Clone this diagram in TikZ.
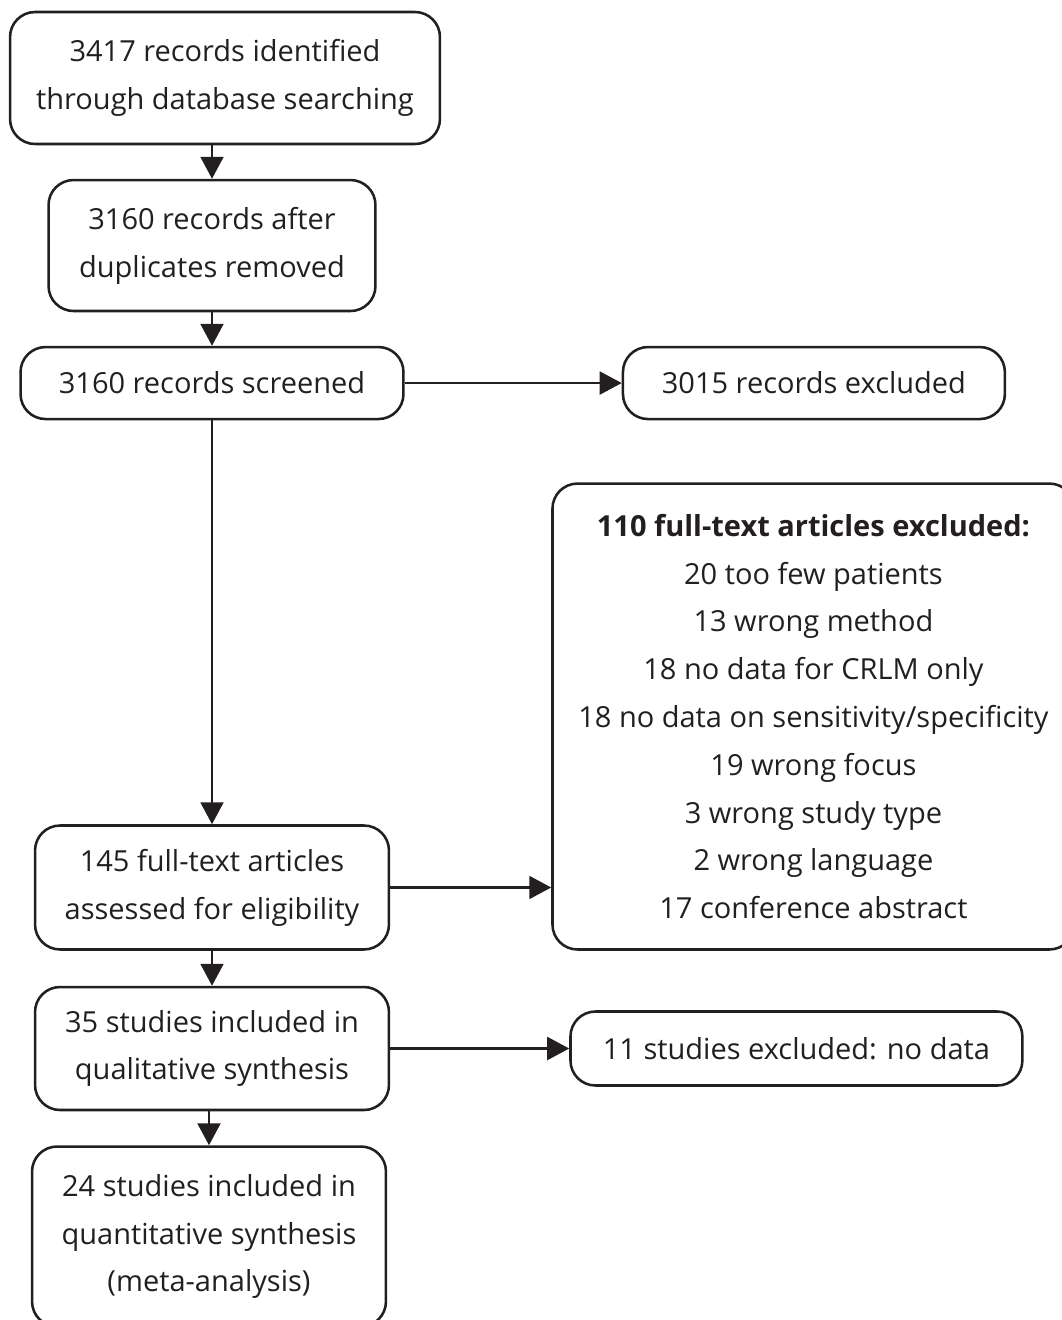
\documentclass[tikz,border=0pt]{standalone}
\usepackage{fontspec}
\setmainfont{Open Sans}
\usepackage{tikz}
\usetikzlibrary{positioning, arrows.meta}
\definecolor{ink}{HTML}{231F20}

\begin{document}
\begin{tikzpicture}[
        x=0.02cm,
        y=-0.02cm,
        >={Triangle[length=12.5pt, width=13pt]},
        every node/.style={
          font=\fontsize{16.5}{27.2}\selectfont,
          text=ink
        },
        box/.style={
          draw=ink,
          line width=1.45pt,
          rounded corners=0.5cm,
          align=center,
          inner sep=0pt
        },
        link/.style={
          draw=ink,
          line width=1.45pt,
          ->
        }
      ]
      \useasboundingbox (0,0) rectangle (1062,1320);

      \node[box, minimum width=8.6cm, minimum height=2.64cm] (ident) at (225,78)
        {3417 records identified\\through database searching};
      \node[box, minimum width=6.54cm, minimum height=2.62cm, below=0.67cm of ident, xshift=-0.26cm] (dupl)
        {3160 records after\\duplicates removed};
      \node[box, minimum width=7.66cm, minimum height=1.44cm, below=0.67cm of dupl] (screen)
        {3160 records screened};
      \node[box, minimum width=7.64cm, minimum height=1.44cm, right=4.34cm of screen] (screx)
        {3015 records excluded};
      \node[box, minimum width=7.08cm, minimum height=2.48cm, below=8.08cm of screen] (fulltext)
        {145 full-text articles\\assessed for eligibility};
      \node[box, minimum width=10.44cm, minimum height=9.32cm, right=3.22cm of fulltext.south east, anchor=south west] (ftex)
        {\textbf{110 full-text articles excluded:}\\
         20 too few patients\\
         13 wrong method\\
         18 no data for CRLM only\\
         18 no data on sensitivity/specificity\\
         19 wrong focus\\
         3 wrong study type\\
         2 wrong language\\
         17 conference abstract};
      \node[box, minimum width=7.08cm, minimum height=2.46cm, below=0.70cm of fulltext] (qual)
        {35 studies included in\\qualitative synthesis};
      \node[box, minimum width=9.04cm, minimum height=1.48cm, right=3.58cm of qual] (qualex)
        {11 studies excluded: no data};
      \node[box, minimum width=7.08cm, minimum height=3.6cm, below=0.68cm of qual, xshift=-0.06cm] (quant)
        {24 studies included in\\quantitative synthesis\\(meta-analysis)};

      \path[link]
      (ident.south -| dupl.north) -- (dupl.north);
      \path[link] (dupl) -- (screen);
      \path[link] (screen) -- (screx);
      \path[link] (screen) -- (fulltext);
      \path[link] (fulltext.east) -- (fulltext.east -| ftex.west);
      \path[link] (fulltext.south -| qual.north) -- (qual.north);
      \path[link] (qual) -- (qualex);
      \path[link] (qual.south -| quant.north) -- (quant.north);
    \end{tikzpicture}
\end{document}
